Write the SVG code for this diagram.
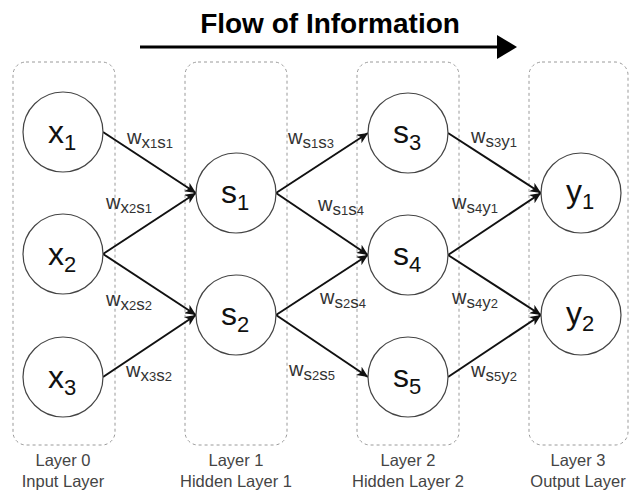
<svg xmlns="http://www.w3.org/2000/svg" width="630" height="490" viewBox="0 0 630 490">
<style>
.layer{fill:none;stroke:#9a9a9a;stroke-width:1;stroke-dasharray:3 3}
.node{fill:#fff;stroke:#444;stroke-width:1.2}
.nt{font-family:"Liberation Sans",Arial,sans-serif;font-size:32px;fill:#111;text-anchor:middle}
.ns{font-size:22px}
.edge{stroke:#111;stroke-width:2;fill:none;marker-end:url(#arr)}
.el{font-family:"Liberation Sans",Arial,sans-serif;font-size:20px;fill:#333}
.s1{font-size:17px}
.s2{font-size:13px}
.ll{font-family:"Liberation Sans",Arial,sans-serif;font-size:16.5px;fill:#444;text-anchor:middle}
.title{font-family:"Liberation Sans",Arial,sans-serif;font-size:28px;font-weight:bold;fill:#000;text-anchor:middle}
</style>
<defs>
<marker id="arr" markerUnits="userSpaceOnUse" markerWidth="12" markerHeight="10" refX="11" refY="5" orient="auto">
<path d="M0,0 L11,5 L0,10 L3,5 z" fill="#111"/>
</marker>
</defs>

<g id="title">
<text class="title" x="330" y="33">Flow of Information</text>
<line x1="140" y1="47" x2="500" y2="47" stroke="#000" stroke-width="3"/>
<polygon points="497,35 517,47 497,59" fill="#000"/>
</g>

<g id="layers">
<g id="layer0"><rect class="layer" x="13" y="62" width="102" height="383" rx="13"/>
<text class="ll" x="63" y="466">Layer 0</text><text class="ll" x="63" y="487">Input Layer</text></g>
<g id="layer1"><rect class="layer" x="185" y="62" width="102" height="383" rx="13"/>
<text class="ll" x="236" y="466">Layer 1</text><text class="ll" x="236" y="487">Hidden Layer 1</text></g>
<g id="layer2"><rect class="layer" x="357" y="62" width="102" height="383" rx="13"/>
<text class="ll" x="408" y="466">Layer 2</text><text class="ll" x="408" y="487">Hidden Layer 2</text></g>
<g id="layer3"><rect class="layer" x="529" y="62" width="99" height="383" rx="13"/>
<text class="ll" x="578" y="466">Layer 3</text><text class="ll" x="578" y="487">Output Layer</text></g>
</g>

<g id="connectors">
<line class="edge" x1="103" y1="132" x2="196" y2="193"/>
<line class="edge" x1="103" y1="254" x2="196" y2="193"/>
<line class="edge" x1="103" y1="254" x2="196" y2="315"/>
<line class="edge" x1="103" y1="377" x2="196" y2="315"/>
<line class="edge" x1="276" y1="193" x2="368" y2="133"/>
<line class="edge" x1="276" y1="193" x2="368" y2="255"/>
<line class="edge" x1="276" y1="315" x2="368" y2="255"/>
<line class="edge" x1="276" y1="315" x2="368" y2="377"/>
<line class="edge" x1="448" y1="133" x2="541" y2="193"/>
<line class="edge" x1="448" y1="255" x2="541" y2="193"/>
<line class="edge" x1="448" y1="255" x2="541" y2="315"/>
<line class="edge" x1="448" y1="377" x2="541" y2="315"/>
<text class="el" x="127" y="144">w<tspan class="s1" dy="4">x</tspan><tspan class="s2" dy="0">1</tspan><tspan class="s1" dy="0">s</tspan><tspan class="s2" dy="0">1</tspan></text>
<text class="el" x="106" y="209">w<tspan class="s1" dy="4">x</tspan><tspan class="s2" dy="0">2</tspan><tspan class="s1" dy="0">s</tspan><tspan class="s2" dy="0">1</tspan></text>
<text class="el" x="106" y="306">w<tspan class="s1" dy="4">x</tspan><tspan class="s2" dy="0">2</tspan><tspan class="s1" dy="0">s</tspan><tspan class="s2" dy="0">2</tspan></text>
<text class="el" x="126" y="377">w<tspan class="s1" dy="4">x</tspan><tspan class="s2" dy="0">3</tspan><tspan class="s1" dy="0">s</tspan><tspan class="s2" dy="0">2</tspan></text>
<text class="el" x="288" y="144">w<tspan class="s1" dy="4">s</tspan><tspan class="s2" dy="0">1</tspan><tspan class="s1" dy="0">s</tspan><tspan class="s2" dy="0">3</tspan></text>
<text class="el" x="318" y="211">w<tspan class="s1" dy="4">s</tspan><tspan class="s2" dy="0">1</tspan><tspan class="s1" dy="0">s</tspan><tspan class="s2" dy="0">4</tspan></text>
<text class="el" x="320" y="304">w<tspan class="s1" dy="4">s</tspan><tspan class="s2" dy="0">2</tspan><tspan class="s1" dy="0">s</tspan><tspan class="s2" dy="0">4</tspan></text>
<text class="el" x="289" y="376">w<tspan class="s1" dy="4">s</tspan><tspan class="s2" dy="0">2</tspan><tspan class="s1" dy="0">s</tspan><tspan class="s2" dy="0">5</tspan></text>
<text class="el" x="471" y="143">w<tspan class="s1" dy="4">s</tspan><tspan class="s2" dy="0">3</tspan><tspan class="s1" dy="0">y</tspan><tspan class="s2" dy="0">1</tspan></text>
<text class="el" x="452" y="209">w<tspan class="s1" dy="4">s</tspan><tspan class="s2" dy="0">4</tspan><tspan class="s1" dy="0">y</tspan><tspan class="s2" dy="0">1</tspan></text>
<text class="el" x="452" y="304">w<tspan class="s1" dy="4">s</tspan><tspan class="s2" dy="0">4</tspan><tspan class="s1" dy="0">y</tspan><tspan class="s2" dy="0">2</tspan></text>
<text class="el" x="471" y="377">w<tspan class="s1" dy="4">s</tspan><tspan class="s2" dy="0">5</tspan><tspan class="s1" dy="0">y</tspan><tspan class="s2" dy="0">2</tspan></text>
</g>

<g id="x1"><circle class="node" cx="63" cy="132" r="40"/><text class="nt" x="62" y="143">x<tspan class="ns" dy="7">1</tspan></text></g>
<g id="x2"><circle class="node" cx="63" cy="254" r="40"/><text class="nt" x="62" y="265">x<tspan class="ns" dy="7">2</tspan></text></g>
<g id="x3"><circle class="node" cx="63" cy="377" r="40"/><text class="nt" x="62" y="388">x<tspan class="ns" dy="7">3</tspan></text></g>
<g id="s1"><circle class="node" cx="236" cy="193" r="40"/><text class="nt" x="235" y="203">s<tspan class="ns" dy="7">1</tspan></text></g>
<g id="s2"><circle class="node" cx="236" cy="315" r="40"/><text class="nt" x="235" y="325">s<tspan class="ns" dy="7">2</tspan></text></g>
<g id="s3"><circle class="node" cx="408" cy="133" r="40"/><text class="nt" x="407" y="143">s<tspan class="ns" dy="7">3</tspan></text></g>
<g id="s4"><circle class="node" cx="408" cy="255" r="40"/><text class="nt" x="407" y="265">s<tspan class="ns" dy="7">4</tspan></text></g>
<g id="s5"><circle class="node" cx="408" cy="377" r="40"/><text class="nt" x="407" y="387">s<tspan class="ns" dy="7">5</tspan></text></g>
<g id="y1"><circle class="node" cx="581" cy="193" r="40"/><text class="nt" x="580" y="202">y<tspan class="ns" dy="7">1</tspan></text></g>
<g id="y2"><circle class="node" cx="581" cy="315" r="40"/><text class="nt" x="580" y="324">y<tspan class="ns" dy="7">2</tspan></text></g>
</svg>
